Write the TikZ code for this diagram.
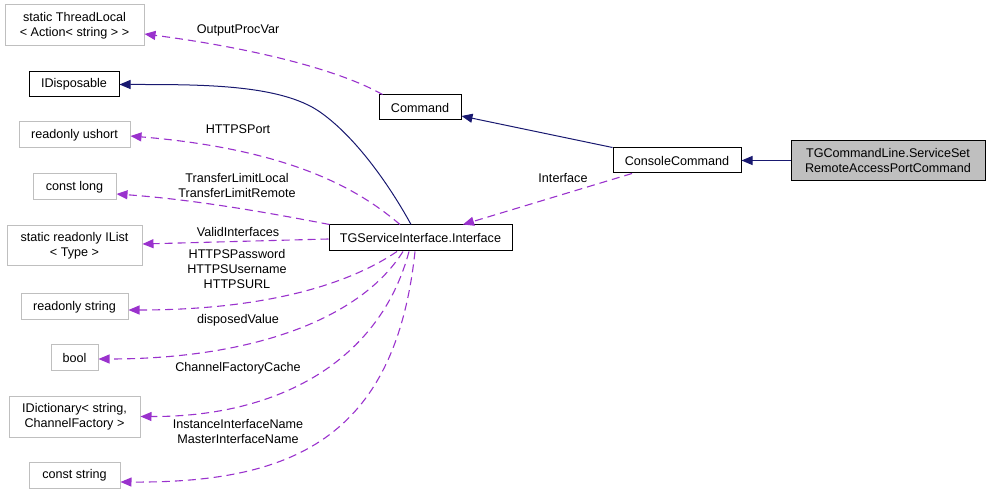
\documentclass[tikz,border=0pt]{standalone}
\usepackage{fontspec}
\setmainfont{Liberation Sans}
\usetikzlibrary{arrows.meta}
\definecolor{grey75}{HTML}{BFBFBF}
\definecolor{orchid}{HTML}{9A32CD}
\definecolor{mblue}{HTML}{191970}
\begin{document}
\begin{tikzpicture}[x=1pt,y=-1pt,
  font=\fontsize{12.6}{15}\selectfont,
  box/.style={rectangle, inner sep=0pt, align=center, line width=1pt},
  ext/.style={box, draw=grey75},
  cls/.style={box, draw=black},
  mainbox/.style={box, draw=black, fill=grey75},
  member/.style={draw=orchid, line width=1.1pt, dash pattern=on 8pt off 5pt, -{Triangle[length=11pt,width=9pt]}},
  inherit/.style={draw=mblue, line width=1pt, -{Triangle[length=11pt,width=9pt]}},
  lbl/.style={inner sep=0pt, align=center}]
\useasboundingbox (0,0) rectangle (991,494);
% left column
\node[ext, minimum width=139pt, minimum height=41pt] (thr) at (74.5,25.5) {static ThreadLocal\\< Action< string > >};
\node[cls, minimum width=90pt, minimum height=25pt] (idisp) at (74,84.5) {IDisposable};
\node[ext, minimum width=111pt, minimum height=26pt] (ushort) at (74.5,135) {readonly ushort};
\node[ext, minimum width=83pt, minimum height=26pt] (clong) at (74.5,187) {const long};
\node[ext, minimum width=135pt, minimum height=40pt] (ilist) at (74.5,245.5) {static readonly IList\\< Type >};
\node[ext, minimum width=107pt, minimum height=26pt] (rstring) at (74.5,307) {readonly string};
\node[ext, minimum width=47pt, minimum height=26pt] (bool) at (74.5,358) {bool};
\node[ext, minimum width=131pt, minimum height=41pt] (idict) at (74.5,416.5) {IDictionary< string,\\ ChannelFactory >};
\node[ext, minimum width=91pt, minimum height=26pt] (cstring) at (74.5,475) {const string};
% middle / right
\node[cls, minimum width=82pt, minimum height=25pt] (command) at (420,107.5) {Command};
\node[cls, minimum width=183pt, minimum height=26pt] (iface) at (420.5,238) {TGServiceInterface.Interface};
\node[cls, minimum width=128pt, minimum height=25pt] (console) at (677,160.5) {ConsoleCommand};
\node[mainbox, minimum width=194pt, minimum height=40pt] (tgcmd) at (888,160.5) {TGCommandLine.ServiceSet\\RemoteAccessPortCommand};
% inheritance
\draw[inherit] (tgcmd.west) -- (console.east);
\draw[inherit] (console.north west) -- ([yshift=-8.5pt]command.east);
\draw[inherit] ([xshift=-9.5pt]iface.north) .. controls (395,195) and (360,140) .. (320,112)
  .. controls (280,84) and (200,84.5) .. (idisp.east);
% members
\draw[member] ([xshift=4pt]command.north west) .. controls (330,65) and (230,45) .. ([yshift=-8.5pt]thr.east);
\draw[member] ([xshift=-45pt]console.south) -- ([xshift=42.5pt]iface.north);
\draw[member] ([xshift=-20.5pt]iface.north) .. controls (365,195) and (300,150) .. ([yshift=-1pt]ushort.east);
\draw[member] ([xshift=1pt]iface.north west) .. controls (280,215) and (200,200) .. ([yshift=-7pt]clong.east);
\draw[member] ([yshift=-1pt]iface.west) -- ([yshift=1.5pt]ilist.east);
\draw[member] ([xshift=-23.5pt]iface.south) .. controls (340,290) and (250,310) .. ([yshift=-3pt]rstring.east);
\draw[member] ([xshift=-17.5pt]iface.south) .. controls (360,320) and (250,359) .. ([yshift=-1pt]bool.east);
\draw[member] ([xshift=-11.5pt]iface.south) .. controls (380,360) and (280,417) .. (idict.east);
\draw[member] ([xshift=-5.5pt]iface.south) .. controls (395,440) and (290,483) .. ([yshift=-7pt]cstring.east);
% labels
\node[lbl] (l1) at (238,30) {OutputProcVar};
\node[lbl] (l2) at (238,129) {HTTPSPort};
\node[lbl] (l3) at (237,185) {TransferLimitLocal\\TransferLimitRemote};
\node[lbl] (l4) at (238,232) {ValidInterfaces};
\node[lbl] (l5) at (237,269) {HTTPSPassword\\HTTPSUsername\\HTTPSURL};
\node[lbl] (l6) at (238,320) {disposedValue};
\node[lbl] (l7) at (238,368) {ChannelFactoryCache};
\node[lbl] (l8) at (238,432) {InstanceInterfaceName\\MasterInterfaceName};
\node[lbl] (l9) at (563,178) {Interface};
\end{tikzpicture}
\end{document}
